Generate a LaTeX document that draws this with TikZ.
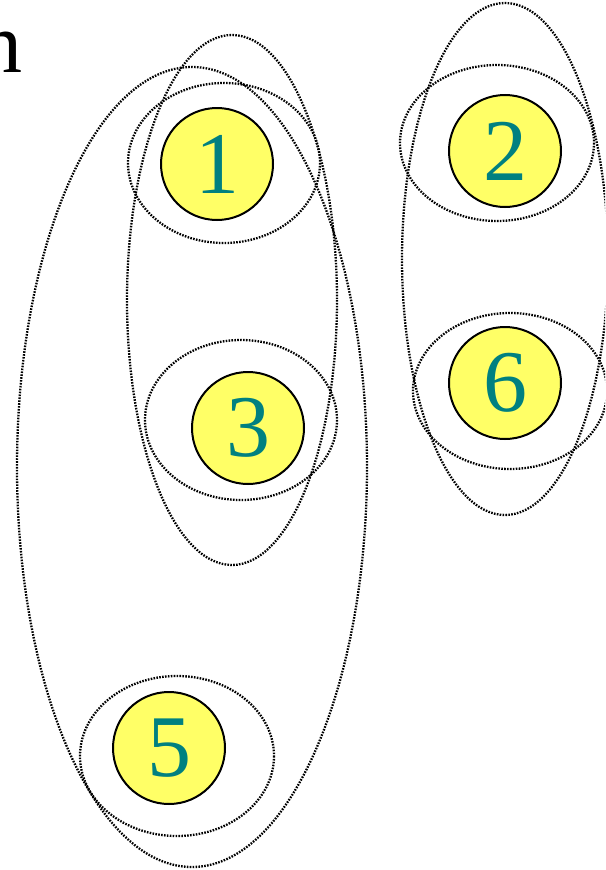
\documentclass[tikz,border=0pt]{standalone}
\usepackage{fontspec}
\setmainfont{Liberation Serif}
\definecolor{teal}{RGB}{0,128,128}
\definecolor{ylw}{RGB}{255,255,102}
\tikzset{
  dotline/.style={draw=black, line width=2.3pt, dash pattern=on 1.6pt off 1.3pt},
  vertex/.style={circle, draw=black, line width=2pt, fill=ylw, minimum size=112pt, inner sep=0pt,
     text=teal, font=\fontsize{88}{88}\selectfont},
}
\begin{document}
\begin{tikzpicture}[x=1pt,y=-1pt]
\useasboundingbox (0,0) rectangle (605,870);
\clip (0,0) rectangle (605,870);
\fill[white] (0,0) rectangle (605,870);
\node[anchor=base east, inner sep=0pt, font=\fontsize{86}{86}\selectfont] (lbl) at (23,72) {n};
% ellipses
\draw[dotline] (224,163) ellipse [x radius=96, y radius=80];
\draw[dotline] (232,300) ellipse [x radius=105, y radius=265];
\draw[dotline] (192,467) ellipse [x radius=175, y radius=400];
\draw[dotline] (241,420) ellipse [x radius=96, y radius=80];
\draw[dotline] (177,756) ellipse [x radius=97, y radius=80];
\draw[dotline] (497,143) ellipse [x radius=97, y radius=78];
\draw[dotline] (510,391) ellipse [x radius=97, y radius=78];
\draw[dotline] (505,259) ellipse [x radius=103, y radius=256];
% vertices
\node[vertex] (v1) at (217,164) {1};
\node[vertex] (v2) at (505,151) {2};
\node[vertex] (v6) at (505,383) {6};
\node[vertex] (v3) at (248,428) {3};
\node[vertex] (v5) at (169,748) {5};
\end{tikzpicture}
\end{document}
